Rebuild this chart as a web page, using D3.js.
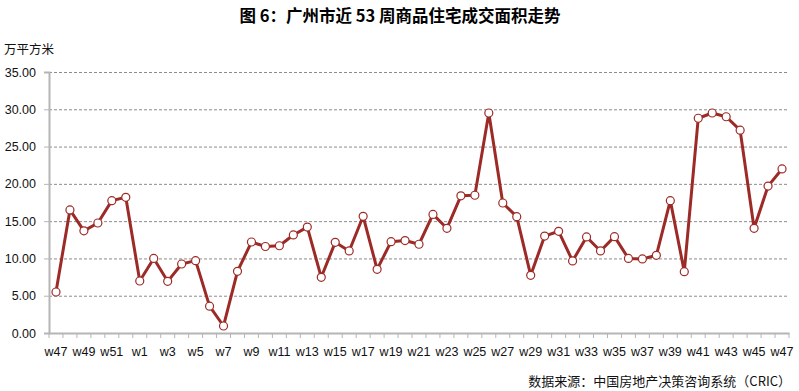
<!DOCTYPE html>
<html><head><meta charset="utf-8">
<script src="https://cdn.jsdelivr.net/npm/d3@7/dist/d3.min.js"></script>
<style>
body{margin:0;background:#fff;}
svg{display:block;font-family:"Liberation Sans",Arial,"Noto Sans CJK SC",sans-serif;}
</style></head>
<body>
<svg id="c" width="799" height="391"></svg>
<script>
const weeks = ["w47","w48","w49","w50","w51","w52","w1","w2","w3","w4","w5","w6","w7","w8","w9","w10","w11","w12","w13","w14","w15","w16","w17","w18","w19","w20","w21","w22","w23","w24","w25","w26","w27","w28","w29","w30","w31","w32","w33","w34","w35","w36","w37","w38","w39","w40","w41","w42","w43","w44","w45","w46","w47 "];
const area = [5.5,16.5,13.7,14.75,17.75,18.2,6.97,10.0,6.93,9.25,9.7,3.6,0.94,8.27,12.2,11.6,11.7,13.15,14.2,7.47,12.16,11.0,15.65,8.54,12.25,12.4,11.9,15.9,14.04,18.4,18.47,29.5,17.43,15.6,7.74,13.0,13.64,9.66,12.88,11.0,12.92,10.0,9.93,10.42,17.75,8.23,28.8,29.5,29.0,27.2,14.04,19.7,22.0];
const yTicks = [0,5,10,15,20,25,30,35];
const title = "图 6：广州市近 53 周商品住宅成交面积走势";
const unit = "万平方米";
const source = "数据来源：中国房地产决策咨询系统（CRIC）";

const svg = d3.select("#c");
const L = 49, R = 789, T = 72, B = 333;
const x = d3.scaleBand().domain(weeks).range([L, R]);
const y = d3.scaleLinear().domain([0, 35]).range([B, T]);
const cx = d => x(d) + x.bandwidth()/2;

svg.append("text").attr("x", 400).attr("y", 22).attr("text-anchor","middle")
  .attr("font-size", 16.5).attr("font-weight","bold").attr("fill","#000")
  .attr("font-family","'Noto Sans CJK SC',sans-serif").text(title);
svg.append("text").attr("x", 4).attr("y", 54).attr("font-size", 12.5).attr("fill","#111")
  .attr("font-family","'Noto Sans CJK SC',sans-serif").text(unit);

// gridlines
svg.append("g").selectAll("line").data(yTicks.filter(d=>d>0)).join("line")
  .attr("x1", L).attr("x2", R).attr("y1", d=>y(d)+0.5).attr("y2", d=>y(d)+0.5)
  .attr("stroke","#8c8c8c").attr("stroke-width",1).attr("stroke-dasharray","3,2");

// y axis
const ya = svg.append("g").attr("transform",`translate(${L},0)`)
  .call(d3.axisLeft(y).tickValues(yTicks).tickFormat(d3.format(".2f")).tickSize(5).tickPadding(8));
ya.select(".domain").attr("stroke","#b5b5b5").attr("stroke-width",2);
ya.selectAll(".tick line").attr("stroke","#b5b5b5");
ya.selectAll("text").attr("font-size",12.5).attr("fill","#111").attr("font-family","'Liberation Sans',Arial");

// x axis
const xa = svg.append("g").attr("transform",`translate(0,${B})`)
  .call(d3.axisBottom(x).tickSize(0).tickFormat((d,i)=> i%2===0 ? d.trim() : ""));
xa.select(".domain").attr("stroke","#b5b5b5").attr("stroke-width",2);
xa.selectAll("text").attr("font-size",12.5).attr("fill","#111").attr("dy","0").attr("y",23)
  .attr("font-family","'Liberation Sans',Arial");
svg.append("g").selectAll("line").data(weeks.map((d,i)=>i).concat([weeks.length])).join("line")
  .attr("x1", i => i < weeks.length ? x(weeks[i]) : R).attr("x2", i => i < weeks.length ? x(weeks[i]) : R)
  .attr("y1", B).attr("y2", B+5).attr("stroke","#b5b5b5");

// line
const line = d3.line().x((d,i)=>cx(weeks[i])).y(d=>y(d));
svg.append("path").datum(area).attr("d", line).attr("fill","none")
  .attr("stroke","#9c2b27").attr("stroke-width",3).attr("stroke-linejoin","round");
svg.append("g").selectAll("circle").data(area).join("circle")
  .attr("cx",(d,i)=>cx(weeks[i])).attr("cy",d=>y(d)).attr("r",4)
  .attr("fill","#fff").attr("stroke","#9c2b27").attr("stroke-width",1.2);

svg.append("text").attr("x", 791).attr("y", 386).attr("text-anchor","end")
  .attr("font-size", 13).attr("fill","#111")
  .attr("font-family","'Noto Sans CJK SC',sans-serif").text(source);
</script>
</body></html>
